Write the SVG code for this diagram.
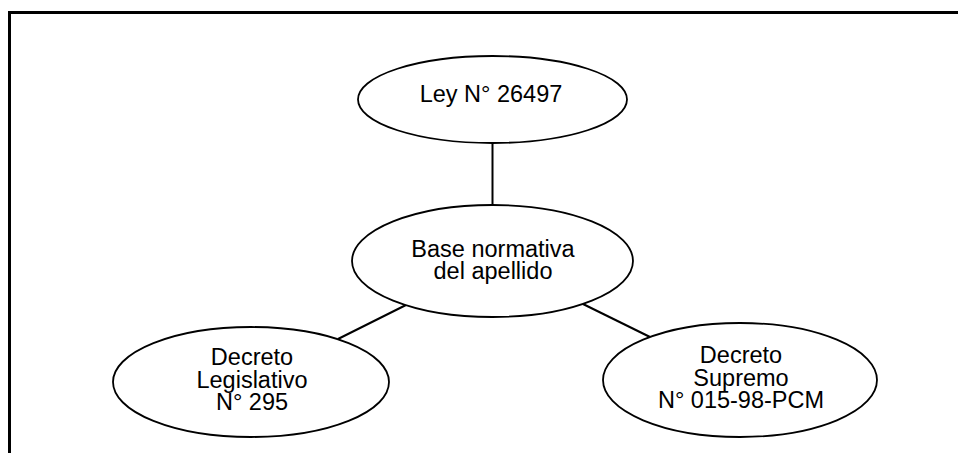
<svg xmlns="http://www.w3.org/2000/svg" width="958" height="453" viewBox="0 0 958 453">
<style>
.node ellipse{fill:#fff;stroke:#000;stroke-width:1.8}
.node text{font-family:"Liberation Sans",Arial,sans-serif;font-size:23.5px;fill:#000;text-anchor:middle}
.conn line{stroke:#000;stroke-width:2}
</style>
<rect width="958" height="453" fill="#fff"/>
<path d="M9.5 453 V12.5 H958" fill="none" stroke="#000" stroke-width="3"/>
<g class="conn">
<line x1="492.5" y1="143" x2="492.5" y2="205"/>
<line x1="406" y1="305" x2="338" y2="339"/>
<line x1="583" y1="304" x2="650" y2="337"/>
</g>
<g class="node" id="ley">
<ellipse cx="492.5" cy="99.5" rx="134.5" ry="43.5"/>
<text x="491" y="102">Ley N° 26497</text>
</g>
<g class="node" id="base">
<ellipse cx="492.5" cy="261" rx="140.5" ry="56"/>
<text x="493" y="257">Base normativa</text>
<text x="493" y="279">del apellido</text>
</g>
<g class="node" id="dl295">
<ellipse cx="251" cy="382" rx="138" ry="55"/>
<text x="252" y="365">Decreto</text>
<text x="252" y="388">Legislativo</text>
<text x="252" y="410">N° 295</text>
</g>
<g class="node" id="ds015">
<ellipse cx="740" cy="380" rx="137" ry="57"/>
<text x="741" y="363">Decreto</text>
<text x="741" y="386">Supremo</text>
<text x="741" y="408">N° 015-98-PCM</text>
</g>
</svg>
